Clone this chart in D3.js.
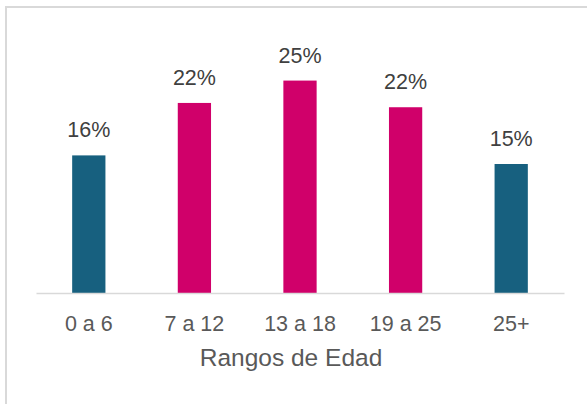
<!DOCTYPE html>
<html>
<head>
<meta charset="utf-8">
<script src="https://cdn.jsdelivr.net/npm/d3@7"></script>
<style>
  body { margin: 0; background: #fff; }
  svg { display: block; font-family: "Liberation Sans", Arial, sans-serif; }
</style>
</head>
<body>
<div id="chart"></div>
<script>
// datos
const categories = ['0 a 6', '7 a 12', '13 a 18', '19 a 25', '25+'];
const values = [0.160, 0.221, 0.247, 0.216, 0.150];
const barColors = ['#17607f', '#d0006a', '#d0006a', '#d0006a', '#17607f'];
const axisTitle = 'Rangos de Edad';

const width = 587;
const height = 404;
const plot = { left: 36, right: 564, top: 35, bottom: 293 };

const svg = d3.select('#chart')
  .append('svg')
  .attr('width', width)
  .attr('height', height);

// marco del gráfico
svg.append('rect')
  .attr('x', 6)
  .attr('y', 7)
  .attr('width', 700)
  .attr('height', 500)
  .attr('fill', 'none')
  .attr('stroke', '#d9d9d9')
  .attr('stroke-width', 2);

const x = d3.scaleBand()
  .domain(categories)
  .range([plot.left, plot.right])
  .paddingInner(0.685)
  .paddingOuter(0.3425);

const y = d3.scaleLinear()
  .domain([0, 0.30])
  .range([plot.bottom, plot.top]);

const data = categories.map((c, i) => ({ cat: c, value: values[i], color: barColors[i] }));

svg.selectAll('.bar')
  .data(data)
  .enter().append('rect')
  .attr('class', 'bar')
  .attr('x', d => x(d.cat))
  .attr('y', d => y(d.value))
  .attr('width', x.bandwidth())
  .attr('height', d => y(0) - y(d.value))
  .attr('fill', d => d.color);

// eje x
const xAxis = svg.append('g')
  .attr('transform', `translate(0,${plot.bottom})`)
  .call(d3.axisBottom(x).tickSize(0).tickPadding(0));

xAxis.select('.domain')
  .attr('stroke', '#d9d9d9')
  .attr('stroke-width', 1.5);

xAxis.selectAll('text')
  .attr('dy', null)
  .attr('y', 38)
  .attr('fill', '#595959')
  .style('font-size', '21.5px')
  .style('font-family', '"Liberation Sans", Arial, sans-serif');

// etiquetas de datos
svg.selectAll('.label')
  .data(data)
  .enter().append('text')
  .attr('class', 'label')
  .attr('x', d => x(d.cat) + x.bandwidth() / 2)
  .attr('y', d => y(d.value) - 18)
  .attr('text-anchor', 'middle')
  .attr('fill', '#404040')
  .style('font-size', '21.5px')
  .text(d => d3.format('.0%')(d.value));

// título del eje
svg.append('text')
  .attr('x', 291)
  .attr('y', 366)
  .attr('text-anchor', 'middle')
  .attr('fill', '#595959')
  .style('font-size', '24.5px')
  .text(axisTitle);
</script>
</body>
</html>
